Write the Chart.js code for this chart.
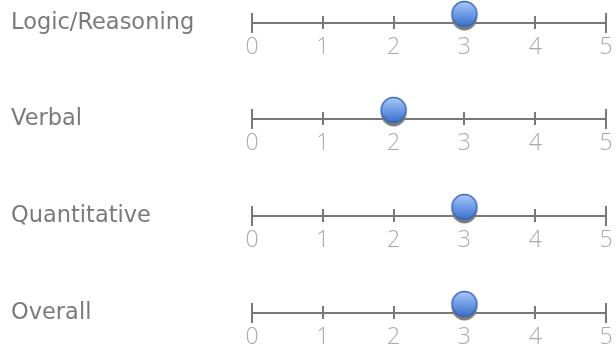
<!DOCTYPE html>
<html>
<head>
<meta charset="utf-8">
<script src="https://cdn.jsdelivr.net/npm/chart.js@4.4.0/dist/chart.umd.min.js"></script>
<style>
  html, body { margin: 0; padding: 0; background: #fff; overflow: hidden; }
  #wrap { position: relative; width: 616px; height: 356px; }
  #wrap canvas { position: absolute; left: 0; }
</style>
</head>
<body>
<div id="wrap"></div>
<script>
// --- Data ---
const categories = ['Logic/Reasoning', 'Verbal', 'Quantitative', 'Overall'];
const scores = [3, 2, 3, 3];
const axisMin = 0;
const axisMax = 5;
const axisStep = 1;

// --- Layout ---
const rowTops = [0, 96, 193, 290];
const rowHeight = 97;
const lineOffset = 23;

// dot with shadow, drawn above the axis line
const makeDot = () => {
    const c = document.createElement('canvas');
    c.width = 40;
    c.height = 60;
    const ctx = c.getContext('2d');
    const cx = 20, cy = 21, r = 12.5;
    ctx.fillStyle = '#7d7d7d';
    ctx.beginPath();
    ctx.arc(cx, cy + 4, r, 0, Math.PI * 2);
    ctx.fill();
    const grad = ctx.createLinearGradient(0, cy - r, 0, cy + r);
    grad.addColorStop(0, '#a9c8f7');
    grad.addColorStop(0.5, '#6f9ce6');
    grad.addColorStop(1, '#3b6fc6');
    ctx.fillStyle = grad;
    ctx.beginPath();
    ctx.arc(cx, cy, r, 0, Math.PI * 2);
    ctx.fill();
    ctx.strokeStyle = '#3a67b4';
    ctx.lineWidth = 1.5;
    ctx.stroke();
    return c;
};
const dot = makeDot();

// tick marks crossing the axis line
const tickMarks = {
    id: 'tickMarks',
    beforeDatasetsDraw(chart) {
        const x = chart.scales.x;
        const y = x.top;
        const ctx = chart.ctx;
        ctx.save();
        ctx.strokeStyle = '#787878';
        ctx.lineWidth = 2;
        x.ticks.forEach((t, i) => {
            const px = Math.round(x.getPixelForValue(t.value));
            const end = i === 0 || i === x.ticks.length - 1;
            const up = end ? 10 : 7;
            const down = end ? 10 : 6;
            ctx.beginPath();
            ctx.moveTo(px, y - up);
            ctx.lineTo(px, y + down);
            ctx.stroke();
        });
        ctx.restore();
    }
};

const wrap = document.querySelector('#wrap');

categories.forEach((name, i) => {
    const canvas = document.createElement('canvas');
    canvas.width = 616;
    canvas.height = rowHeight;
    canvas.style.top = rowTops[i] + 'px';
    wrap.appendChild(canvas);

    new Chart(canvas, {
        type: 'scatter',
        data: {
            datasets: [{
                data: [{ x: scores[i], y: 0 }],
                pointStyle: dot,
                clip: false
            }]
        },
        options: {
            responsive: false,
            animation: false,
            events: [],
            layout: { padding: { left: 11, right: 10, top: 0, bottom: 0 } },
            plugins: { legend: { display: false }, tooltip: { enabled: false } },
            scales: {
                x: {
                    type: 'linear',
                    min: axisMin,
                    max: axisMax,
                    grid: { display: true, drawOnChartArea: false, drawTicks: false },
                    border: { display: true, color: '#787878', width: 2 },
                    ticks: {
                        stepSize: axisStep,
                        color: '#aaaaaa',
                        padding: 11,
                        font: { family: 'Open Sans', size: 23, weight: 300 }
                    },
                    afterFit: (scale) => {
                        scale.height = rowHeight - lineOffset;
                        scale.paddingLeft = 0;
                        scale.paddingRight = 0;
                    }
                },
                y: {
                    type: 'linear',
                    min: 0,
                    max: 1,
                    grid: { display: false },
                    border: { display: false },
                    afterBuildTicks: (scale) => { scale.ticks = [{ value: 0 }]; },
                    ticks: {
                        crossAlign: 'far',
                        padding: 0,
                        color: '#7a7a7a',
                        font: { family: 'DejaVu Sans', size: 22.5 },
                        callback: () => name
                    },
                    afterFit: (scale) => { scale.width = 241; }
                }
            }
        },
        plugins: [tickMarks]
    });
});
</script>
</body>
</html>
